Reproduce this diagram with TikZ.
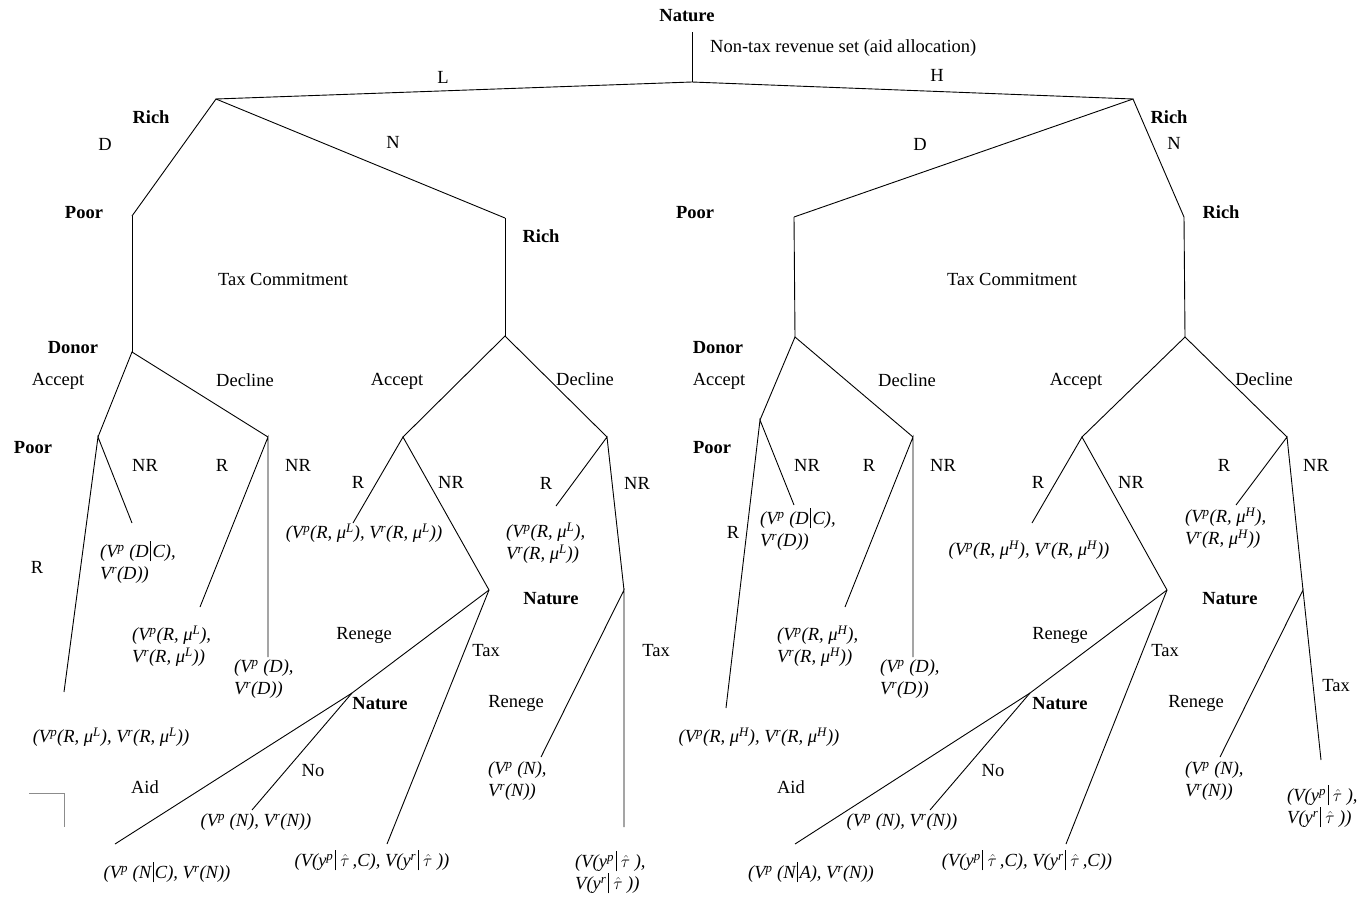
\documentclass[tikz,border=0pt]{standalone}
\usepackage{fontspec}
\setmainfont{Liberation Serif}
\newcommand\sps[1]{\textsuperscript{#1}}
\newcommand\vbar{\hspace{1.5pt}\rule[-0.22em]{0.8pt}{1.12em}\hspace{1.5pt}}
\newcommand\tauhat{\ensuremath{\hat{\tau}}}
\tikzset{
  edge/.style={line width=0.9pt},
  pl/.style={font=\fontsize{18.5}{21.5}\selectfont\bfseries, inner sep=0pt},
  act/.style={font=\fontsize{18.5}{21.5}\selectfont, inner sep=0pt},
  pay/.style={font=\fontsize{18.5}{22}\selectfont\itshape, inner sep=0pt, align=left},
  payw/.style={pay, anchor=west},
}
\begin{document}
\begin{tikzpicture}[x=1pt,y=-1pt]
\useasboundingbox (0,0) rectangle (1368,900);
% ---------- vertices ----------
\coordinate (top) at (692,32);
\coordinate (root) at (692,82);
\coordinate (RL) at (216,99);
\coordinate (RH) at (1133,99);
\coordinate (PL) at (132,216);
\coordinate (RL2) at (505,218);
\coordinate (DL) at (132,352);
\coordinate (RL2b) at (505,336);
\coordinate (PL2) at (98,437);
\coordinate (DecL) at (268,437);
\coordinate (ePL2R) at (64,692);
\coordinate (ePL2N) at (132,523);
\coordinate (eDecLR) at (200,607);
\coordinate (eDecLN) at (268,657);
\coordinate (AccL) at (403,437);
\coordinate (DecL2) at (607,437);
\coordinate (eAccLR) at (353,523);
\coordinate (NatL) at (489,590);
\coordinate (NatLb) at (352,693);
\coordinate (eAidL) at (115,844);
\coordinate (eNoL) at (252,810);
\coordinate (eTaxL) at (387,844);
\coordinate (eDecL2R) at (556,506);
\coordinate (NatL2) at (624,590);
\coordinate (eRenL2) at (541,757);
\coordinate (eTaxL2) at (624,827);
% right
\coordinate (PH) at (794,217);
\coordinate (RH2) at (1184,217);
\coordinate (DH) at (795,337);
\coordinate (RH2b) at (1185,337);
\coordinate (PH2) at (760,420);
\coordinate (DecH) at (913,437);
\coordinate (ePH2R) at (726,708);
\coordinate (ePH2N) at (794,505);
\coordinate (eDecHR) at (845,607);
\coordinate (eDecHN) at (913,657);
\coordinate (AccH) at (1082,437);
\coordinate (DecH2) at (1287,437);
\coordinate (eAccHR) at (1032,523);
\coordinate (NatH) at (1167,590);
\coordinate (NatHb) at (1030,693);
\coordinate (eAidH) at (795,844);
\coordinate (eNoH) at (930,810);
\coordinate (eTaxH) at (1066,844);
\coordinate (eDecH2R) at (1236,505);
\coordinate (NatH2) at (1303,590);
\coordinate (eRenH2) at (1220,757);
\coordinate (eTaxH2) at (1321,760);
\coordinate (c1) at (29,793);
\coordinate (c2) at (64,793);
\coordinate (c3) at (64,827);
% ---------- edges ----------
\draw[edge] (top) -- (root);
\draw[edge] (RL) -- (root) -- (RH);
\draw[edge] (PL) -- (RL) -- (RL2);
\draw[edge] (PL) -- (DL);
\draw[edge] (RL2) -- (RL2b);
\draw[edge] (PL2) -- (DL) -- (DecL);
\draw[edge] (ePL2R) -- (PL2) -- (ePL2N);
\draw[edge] (eDecLR) -- (DecL) -- (eDecLN);
\draw[edge] (AccL) -- (RL2b) -- (DecL2);
\draw[edge] (eAccLR) -- (AccL) -- (NatL);
\draw[edge] (NatL) -- (NatLb) -- (eAidL);
\draw[edge] (NatLb) -- (eNoL);
\draw[edge] (NatL) -- (eTaxL);
\draw[edge] (eDecL2R) -- (DecL2) -- (NatL2);
\draw[edge] (eRenL2) -- (NatL2) -- (eTaxL2);
\draw[edge] (PH) -- (RH) -- (RH2);
\draw[edge] (PH) -- (DH);
\draw[edge] (RH2) -- (RH2b);
\draw[edge] (PH2) -- (DH) -- (DecH);
\draw[edge] (ePH2R) -- (PH2) -- (ePH2N);
\draw[edge] (eDecHR) -- (DecH) -- (eDecHN);
\draw[edge] (AccH) -- (RH2b) -- (DecH2);
\draw[edge] (eAccHR) -- (AccH) -- (NatH);
\draw[edge] (NatH) -- (NatHb) -- (eAidH);
\draw[edge] (NatHb) -- (eNoH);
\draw[edge] (NatH) -- (eTaxH);
\draw[edge] (eDecH2R) -- (DecH2) -- (NatH2);
\draw[edge] (eRenH2) -- (NatH2) -- (eTaxH2);
\draw[line width=0.8pt, black!45] (c1) -- (c2) -- (c3);
% ---------- player labels ----------
\node[pl] (nat0) at (687,16) {Nature};
\node[pl] (richL) at (151,117) {Rich};
\node[pl] (poorL) at (84,213) {Poor};
\node[pl] (richL2) at (541,236) {Rich};
\node[pl] (donL) at (73,348) {Donor};
\node[pl] (poorL2) at (33,448) {Poor};
\node[pl] (natL) at (551,599) {Nature};
\node[pl] (natLb) at (380,704) {Nature};
\node[pl] (poorH) at (695,213) {Poor};
\node[pl] (richH) at (1169,117) {Rich};
\node[pl] (richH2) at (1221,212) {Rich};
\node[pl] (donH) at (718,348) {Donor};
\node[pl] (poorH2) at (712,448) {Poor};
\node[pl] (natH) at (1230,599) {Nature};
\node[pl] (natHb) at (1060,704) {Nature};
% ---------- action labels ----------
\node[act, anchor=west] (ntr) at (710,48) {Non-tax revenue set (aid allocation)};
\node[act] (aL) at (443,77) {L};
\node[act] (aH) at (937,75) {H};
\node[act] (aD1) at (105,144) {D};
\node[act] (aN1) at (393,142) {N};
\node[act] (aD2) at (920,144) {D};
\node[act] (aN2) at (1174,143) {N};
\node[act] (tc1) at (283,279) {Tax Commitment};
\node[act] (tc2) at (1012,279) {Tax Commitment};
\node[act] (ac1) at (58,381) {Accept};
\node[act] (de1) at (245,380) {Decline};
\node[act] (ac2) at (397,381) {Accept};
\node[act] (de2) at (585,379) {Decline};
\node[act] (ac3) at (719,381) {Accept};
\node[act] (de3) at (907,380) {Decline};
\node[act] (ac4) at (1076,381) {Accept};
\node[act] (de4) at (1264,379) {Decline};
\node[act] (nr1) at (145,465) {NR};
\node[act] (r2) at (222,465) {R};
\node[act] (nr2) at (298,465) {NR};
\node[act] (r3) at (358,482) {R};
\node[act] (nr3) at (451,482) {NR};
\node[act] (r4) at (546,483) {R};
\node[act] (nr4) at (637,483) {NR};
\node[act] (r1) at (37,567) {R};
\node[act] (nr5) at (807,465) {NR};
\node[act] (r6) at (869,465) {R};
\node[act] (nr6) at (943,465) {NR};
\node[act] (r7) at (1038,482) {R};
\node[act] (nr7) at (1131,482) {NR};
\node[act] (r8) at (1224,465) {R};
\node[act] (nr8) at (1316,465) {NR};
\node[act] (r5) at (733,532) {R};
\node[act] (ren1) at (364,635) {Renege};
\node[act] (tax1) at (486,651) {Tax};
\node[act] (ren2) at (516,703) {Renege};
\node[act] (tax2) at (656,651) {Tax};
\node[act] (no1) at (313,771) {No};
\node[act] (aid1) at (145,787) {Aid};
\node[act] (ren3) at (1060,635) {Renege};
\node[act] (tax3) at (1165,651) {Tax};
\node[act] (ren4) at (1196,703) {Renege};
\node[act] (tax4) at (1336,686) {Tax};
\node[act] (no2) at (993,771) {No};
\node[act] (aid2) at (791,787) {Aid};
% ---------- payoffs ----------
\node[payw] (p1) at (100,562) {(V\sps{p} (D\vbar C),\\V\sps{r}(D))};
\node[pay] (p2) at (111,737) {(V\sps{p}(R, μ\sps{L}), V\sps{r}(R, μ\sps{L}))};
\node[payw] (p3) at (132,646) {(V\sps{p}(R, μ\sps{L}),\\V\sps{r}(R, μ\sps{L}))};
\node[payw] (p4) at (234,679) {(V\sps{p} (D),\\V\sps{r}(D))};
\node[pay] (p5) at (364,533) {(V\sps{p}(R, μ\sps{L}), V\sps{r}(R, μ\sps{L}))};
\node[payw] (p6) at (506,543) {(V\sps{p}(R, μ\sps{L}),\\V\sps{r}(R, μ\sps{L}))};
\node[pay] (p7) at (167,872) {(V\sps{p} (N\vbar C), V\sps{r}(N))};
\node[pay] (p8) at (256,822) {(V\sps{p} (N), V\sps{r}(N))};
\node[pay] (p9) at (372,860) {(V(y\sps{p}\vbar\,\tauhat\,,C), V(y\sps{r}\vbar\,\tauhat\ ))};
\node[payw] (p10) at (488,781) {(V\sps{p} (N),\\V\sps{r}(N))};
\node[payw] (p11) at (575,872) {(V(y\sps{p}\vbar\,\tauhat\ ),\\V(y\sps{r}\vbar\,\tauhat\ ))};
\node[payw] (p12) at (760,529) {(V\sps{p} (D\vbar C),\\V\sps{r}(D))};
\node[pay] (p13) at (759,737) {(V\sps{p}(R, μ\sps{H}), V\sps{r}(R, μ\sps{H}))};
\node[payw] (p14) at (777,646) {(V\sps{p}(R, μ\sps{H}),\\V\sps{r}(R, μ\sps{H}))};
\node[payw] (p15) at (880,679) {(V\sps{p} (D),\\V\sps{r}(D))};
\node[pay] (p16) at (1029,550) {(V\sps{p}(R, μ\sps{H}), V\sps{r}(R, μ\sps{H}))};
\node[payw] (p17) at (1185,528) {(V\sps{p}(R, μ\sps{H}),\\V\sps{r}(R, μ\sps{H}))};
\node[pay] (p18) at (811,872) {(V\sps{p} (N\vbar A), V\sps{r}(N))};
\node[pay] (p19) at (902,822) {(V\sps{p} (N), V\sps{r}(N))};
\node[pay] (p20) at (1027,860) {(V(y\sps{p}\vbar\,\tauhat\,,C), V(y\sps{r}\vbar\,\tauhat\,,C))};
\node[payw] (p21) at (1185,781) {(V\sps{p} (N),\\V\sps{r}(N))};
\node[payw] (p22) at (1287,806) {(V(y\sps{p}\vbar\,\tauhat\ ),\\V(y\sps{r}\vbar\,\tauhat\ ))};
\end{tikzpicture}
\end{document}
